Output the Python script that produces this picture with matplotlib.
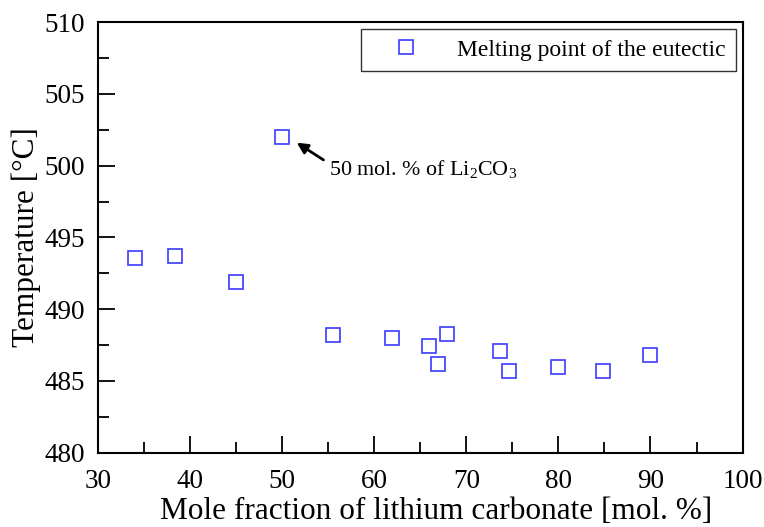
#Imports
import matplotlib
matplotlib.use('Agg')
from matplotlib import pyplot as plt
from matplotlib.ticker import MultipleLocator

plt.rcParams['font.family'] = ['Liberation Serif', 'DejaVu Serif']
plt.rcParams['mathtext.fontset'] = 'stix'

#Data
li2co3 = [34.0, 38.4, 45.0, 50.0, 55.5, 61.9, 66.0, 66.9, 67.9, 73.7, 74.6, 80.0, 84.8, 90.0]
temp_c = [493.6, 493.7, 491.9, 502.0, 488.2, 488.0, 487.4, 486.2, 488.3, 487.1, 485.7, 486.0, 485.7, 486.8]
legend_label = 'Melting point of the eutectic'
note_text = r'50 mol. % of $\mathregular{Li_2CO_3}$'

fig = plt.figure(figsize=(7.64, 5.27), dpi=100)
ax = fig.add_axes([0.128, 0.141, 0.844, 0.817])

ax.plot(li2co3, temp_c, linestyle='none', marker='s', markersize=9.5,
        markerfacecolor='none', markeredgecolor='#3a3aff', markeredgewidth=1.2,
        label=legend_label)

#Arrow pointing at the 50 mol. % point
ax.annotate('', xy=(51.6, 501.6), xytext=(54.5, 500.4),
            arrowprops=dict(arrowstyle='-|>', color='black', lw=2, mutation_scale=16,
                            shrinkA=0, shrinkB=0))
ax.text(55.1, 499.8, note_text, fontsize=15.8, ha='left', va='center')

ax.set_xlim(30, 100)
ax.set_ylim(480, 510)
ax.xaxis.set_major_locator(MultipleLocator(10))
ax.xaxis.set_minor_locator(MultipleLocator(5))
ax.yaxis.set_major_locator(MultipleLocator(5))
ax.yaxis.set_minor_locator(MultipleLocator(2.5))
ax.tick_params(which='both', direction='in', top=False, right=False, labelsize=19.5, width=1.3)
ax.tick_params(which='major', length=12, pad=9)
ax.tick_params(axis='x', which='major', pad=12)
ax.tick_params(which='minor', length=8)
for s in ax.spines.values():
    s.set_linewidth(1.5)

ax.set_xlabel('Mole fraction of lithium carbonate [mol. %]', fontsize=22.5)
ax.set_ylabel('Temperature [°C]', fontsize=22.5)
ax.xaxis.set_label_coords(0.525, -0.104)
ax.yaxis.set_label_coords(-0.088, 0.5)

leg = ax.legend(loc='upper right', fontsize=17, frameon=True, fancybox=False,
                handletextpad=0.68, borderpad=0.42, borderaxespad=0.3, handlelength=2.97)
leg.get_frame().set_edgecolor('black')
leg.get_frame().set_linewidth(1.0)

plt.savefig('out.png', dpi=100)
